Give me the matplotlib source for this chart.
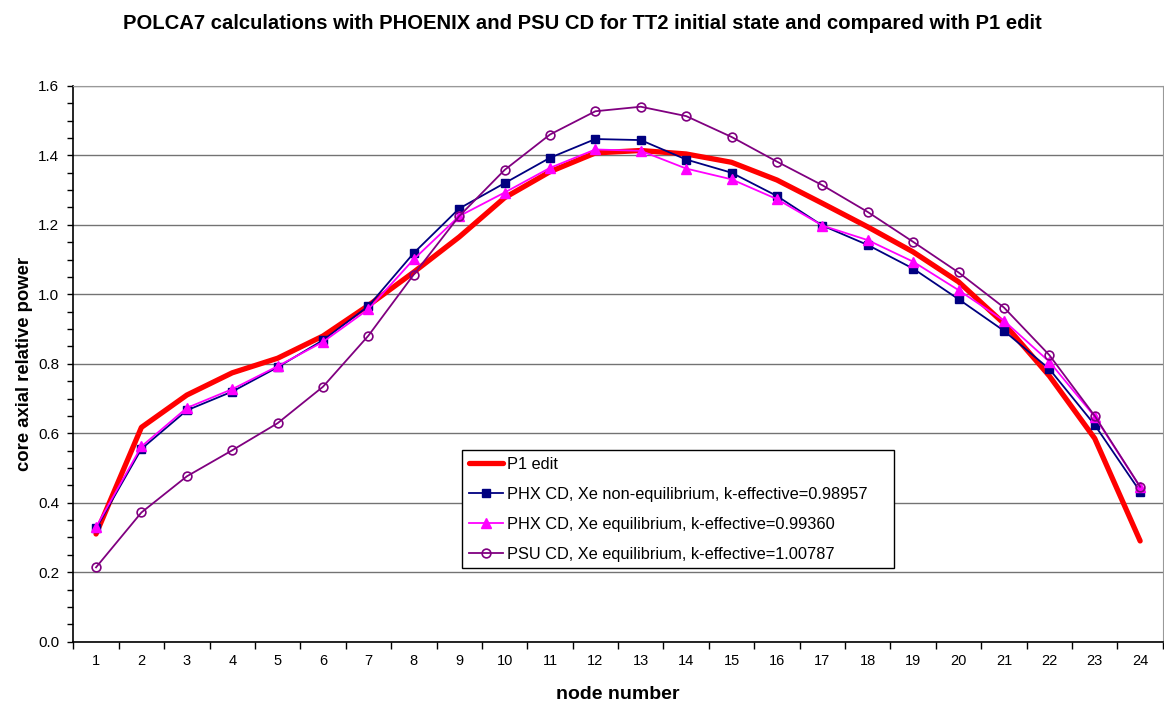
import matplotlib
matplotlib.use("Agg")
import matplotlib.pyplot as plt
from matplotlib.ticker import MultipleLocator, FixedLocator, NullFormatter

plt.rcParams['font.family'] = ['Liberation Sans', 'DejaVu Sans']

# ---------------- data ----------------
nodes = list(range(1, 25))

p1_edit = [0.31, 0.617, 0.71, 0.774, 0.816, 0.880, 0.968, 1.064, 1.165, 1.278,
           1.353, 1.407, 1.414, 1.404, 1.380, 1.329, 1.262, 1.194, 1.122, 1.036,
           0.916, 0.765, 0.585, 0.29]

phx_noneq = [0.326, 0.555, 0.666, 0.720, 0.790, 0.868, 0.966, 1.119, 1.247, 1.320,
             1.393, 1.447, 1.444, 1.388, 1.350, 1.283, 1.198, 1.142, 1.074, 0.986,
             0.895, 0.785, 0.624, 0.432]

phx_eq = [0.330, 0.562, 0.673, 0.727, 0.793, 0.863, 0.957, 1.101, 1.225, 1.293,
          1.364, 1.417, 1.413, 1.362, 1.331, 1.274, 1.198, 1.156, 1.094, 1.012,
          0.924, 0.806, 0.648, 0.445]

psu_eq = [0.214, 0.372, 0.476, 0.551, 0.629, 0.734, 0.881, 1.057, 1.225, 1.358,
          1.460, 1.527, 1.540, 1.513, 1.453, 1.382, 1.314, 1.237, 1.151, 1.063,
          0.962, 0.825, 0.650, 0.446]

labels = ["P1 edit",
          "PHX CD, Xe non-equilibrium, k-effective=0.98957",
          "PHX CD, Xe equilibrium, k-effective=0.99360",
          "PSU CD, Xe equilibrium, k-effective=1.00787"]

# ---------------- figure ----------------
fig = plt.figure(figsize=(11.64, 7.04), dpi=100)
ax = fig.add_axes([0.063, 0.0885, 0.936, 0.7895])

l1, = ax.plot(nodes, p1_edit, color="#FF0000", linewidth=3.8, label=labels[0],
              solid_capstyle="round", zorder=3)
l2, = ax.plot(nodes, phx_noneq, color="#000080", linewidth=1.3, marker="s", markersize=5.5,
              markerfacecolor="#000080", markeredgecolor="#000080", label=labels[1], zorder=4)
l3, = ax.plot(nodes, phx_eq, color="#FF00FF", linewidth=1.3, marker="^", markersize=6.5,
              markerfacecolor="#FF00FF", markeredgecolor="#FF00FF", label=labels[2], zorder=5)
l4, = ax.plot(nodes, psu_eq, color="#800080", linewidth=1.3, marker="o", markersize=6.3,
              markerfacecolor="none", markeredgecolor="#800080", markeredgewidth=1.2,
              label=labels[3], zorder=6)

ax.set_xlim(0.5, 24.5)
ax.set_ylim(0, 1.6)

# y axis
ax.yaxis.set_major_locator(MultipleLocator(0.2))
ax.yaxis.set_minor_locator(MultipleLocator(0.05))
ax.yaxis.set_major_formatter(plt.FuncFormatter(lambda v, p: f"{v:.1f}"))
ax.tick_params(axis="y", which="major", direction="out", length=4, width=1, labelsize=11, pad=6)
ax.tick_params(axis="y", which="minor", direction="out", length=4, width=1)
ax.grid(axis="y", which="major", color="#000000", linewidth=1, alpha=0.55)
ax.set_axisbelow(True)

# x axis: labels at centers, ticks at boundaries
ax.set_xticks(nodes)
ax.set_xticklabels([str(n) for n in nodes])
ax.tick_params(axis="x", which="major", length=0, labelsize=10.5, pad=9)
ax.xaxis.set_minor_locator(FixedLocator([n + 0.5 for n in range(0, 25)]))
ax.xaxis.set_minor_formatter(NullFormatter())
ax.tick_params(axis="x", which="minor", direction="out", length=5, width=1)

for side in ["top", "right"]:
    ax.spines[side].set_color("#999999")
for side in ["left", "bottom"]:
    ax.spines[side].set_color("#000000")
    ax.spines[side].set_linewidth(1.2)

ax.set_xlabel("node number", fontsize=14, fontweight="bold", labelpad=13)
ax.set_ylabel("core axial relative power", fontsize=13.3, fontweight="bold", labelpad=4)

fig.text(0.5, 0.967, "POLCA7 calculations with PHOENIX and PSU CD for TT2 initial state and compared with P1 edit",
         fontsize=14.6, fontweight="bold", ha="center", va="center")

leg = ax.legend(handles=[l1, l2, l3, l4], loc="lower left",
                bbox_to_anchor=(0.357, 0.1325, 0.396, 0.2145), mode="expand",
                fontsize=11.8, frameon=True, fancybox=False, framealpha=1,
                edgecolor="#000000", borderaxespad=0, handlelength=2.1,
                handletextpad=0.25, labelspacing=0.92, borderpad=0.38)
leg.get_frame().set_linewidth(1)
leg.set_zorder(10)

fig.savefig("out.png", dpi=100)
